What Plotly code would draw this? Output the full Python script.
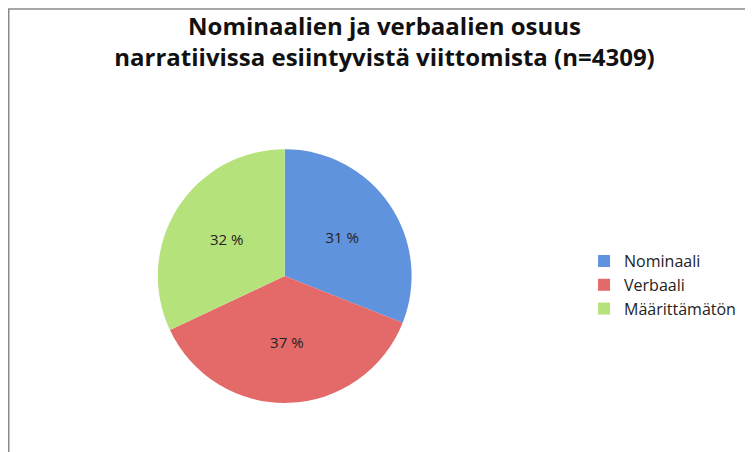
import plotly.graph_objects as go

labels = ['Nominaali', 'Verbaali', 'Määrittämätön']
shares = [31, 37, 32]
colors = ['#5f93de', '#e46a6a', '#b6e27c']

fig = go.Figure(go.Pie(
    labels=labels, values=shares, sort=False, direction='clockwise', rotation=0,
    text=[f'{v} %' for v in shares], textinfo='text', textposition='inside',
    insidetextfont=dict(color='#222', size=15),
    marker=dict(colors=colors, line=dict(color='rgba(0,0,0,0)', width=0)),
    domain=dict(x=[0.199, 0.536], y=[0.126, 0.688]),
))

fig.update_layout(
    width=753, height=452,
    paper_bgcolor='white', plot_bgcolor='white',
    font=dict(family='Open Sans, Liberation Sans, sans-serif', color='#222'),
    title=dict(text='<b>Nominaalien ja verbaalien osuus<br>narratiivissa esiintyvistä viittomista (n=4309)</b>',
               x=0.5, xanchor='center', y=0.94, yanchor='top', font=dict(size=24, color='#111')),
    legend=dict(x=0.765, y=0.387, yanchor='middle', font=dict(size=16), itemwidth=30),
    margin=dict(l=0, r=0, t=0, b=0),
    shapes=[dict(type='rect', xref='paper', yref='paper', x0=0.001, y0=0.002, x1=0.998, y1=0.998,
                 line=dict(color='#8a8a8a', width=1.5))],
)

fig.write_html('out.html')
